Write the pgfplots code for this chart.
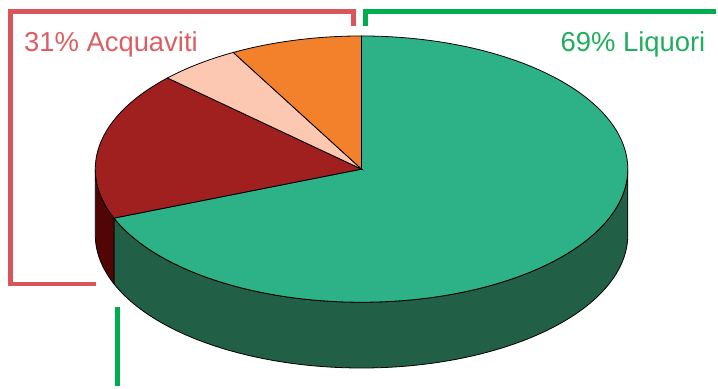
\documentclass[border=0pt]{standalone}
\usepackage{pgfplots}
\pgfplotsset{compat=1.18}
\usepgfplotslibrary{fillbetween}
\usepackage{fontspec}
\setmainfont{Liberation Sans}

\definecolor{liqtop}{RGB}{45,177,135}
\definecolor{liqside}{RGB}{34,95,71}
\definecolor{acqAtop}{RGB}{160,32,32}
\definecolor{acqAside}{RGB}{82,5,5}
\definecolor{acqB}{RGB}{252,200,178}
\definecolor{acqC}{RGB}{243,129,43}
\definecolor{brRed}{RGB}{217,85,90}
\definecolor{txRed}{RGB}{221,94,98}
\definecolor{brGreen}{RGB}{0,173,78}
\definecolor{txGreen}{RGB}{30,174,92}

% pie geometry (centre, radii, thickness)
\def\cx{362.8}\def\cy{217.3}\def\rx{267.2}\def\ry{133.6}\def\dep{66}
% shares in percent: Liquori, then the three Acquaviti slices
\def\sLiq{69}\def\sA{18}\def\sB{5}\def\sC{8}
\pgfmathsetmacro\aZero{90}
\pgfmathsetmacro\aOne{\aZero-3.6*\sLiq}
\pgfmathsetmacro\aTwo{\aOne-3.6*\sA}
\pgfmathsetmacro\aThree{\aTwo-3.6*\sB}
\pgfmathsetmacro\aFour{\aThree-3.6*\sC}

\begin{document}
\begin{tikzpicture}
\begin{axis}[
  scale only axis, width=718pt, height=387pt,
  xmin=0, xmax=718, ymin=0, ymax=387,
  hide axis, clip=false,
  variable=\t, samples=120,
]
% keep the whole canvas in the bounding box
\path (axis cs:0,0) rectangle (axis cs:718,387);

% --- side walls (front half only) ---
\addplot[name path=gT, draw=none, domain=\aOne:0] ({\cx+\rx*cos(\t)},{\cy+\ry*sin(\t)});
\addplot[name path=gB, draw=none, domain=\aOne:0] ({\cx+\rx*cos(\t)},{\cy-\dep+\ry*sin(\t)});
\addplot[fill=liqside, draw=black, line width=0.8pt] fill between[of=gT and gB];

\addplot[name path=rT, draw=none, domain=-180:\aOne, samples=30] ({\cx+\rx*cos(\t)},{\cy+\ry*sin(\t)});
\addplot[name path=rB, draw=none, domain=-180:\aOne, samples=30] ({\cx+\rx*cos(\t)},{\cy-\dep+\ry*sin(\t)});
\addplot[fill=acqAside, draw=black, line width=0.8pt] fill between[of=rT and rB];

% --- top faces ---
\addplot[fill=liqtop, draw=black, line width=0.8pt, domain=\aOne:\aZero]
  ({\cx+\rx*cos(\t)},{\cy+\ry*sin(\t)}) -- (axis cs:\cx,\cy) -- cycle;
\addplot[fill=acqAtop, draw=black, line width=0.8pt, domain=\aTwo:\aOne, samples=40]
  ({\cx+\rx*cos(\t)},{\cy+\ry*sin(\t)}) -- (axis cs:\cx,\cy) -- cycle;
\addplot[fill=acqB, draw=black, line width=0.8pt, domain=\aThree:\aTwo, samples=20]
  ({\cx+\rx*cos(\t)},{\cy+\ry*sin(\t)}) -- (axis cs:\cx,\cy) -- cycle;
\addplot[fill=acqC, draw=black, line width=0.8pt, domain=\aFour:\aThree, samples=20]
  ({\cx+\rx*cos(\t)},{\cy+\ry*sin(\t)}) -- (axis cs:\cx,\cy) -- cycle;

% --- group brackets ---
\addplot[brRed, line width=5pt, miter limit=10] coordinates
  {(354.5,361) (354.5,375.5) (10.5,375.5) (10.5,102) (96,102)};
\addplot[brGreen, line width=5pt] coordinates
  {(367,361) (367,375.5) (718,375.5)};
\addplot[brGreen, line width=5pt] coordinates
  {(117.5,79) (117.5,0)};

\node[anchor=base west, text=txRed, font=\fontsize{27.5}{30}\selectfont, inner sep=0pt]
  at (axis cs:24,335) {31\% Acquaviti};
\node[anchor=base east, text=txGreen, font=\fontsize{27.5}{30}\selectfont, inner sep=0pt]
  at (axis cs:708,335) {69\% Liquori};
\end{axis}
\end{tikzpicture}
\end{document}
